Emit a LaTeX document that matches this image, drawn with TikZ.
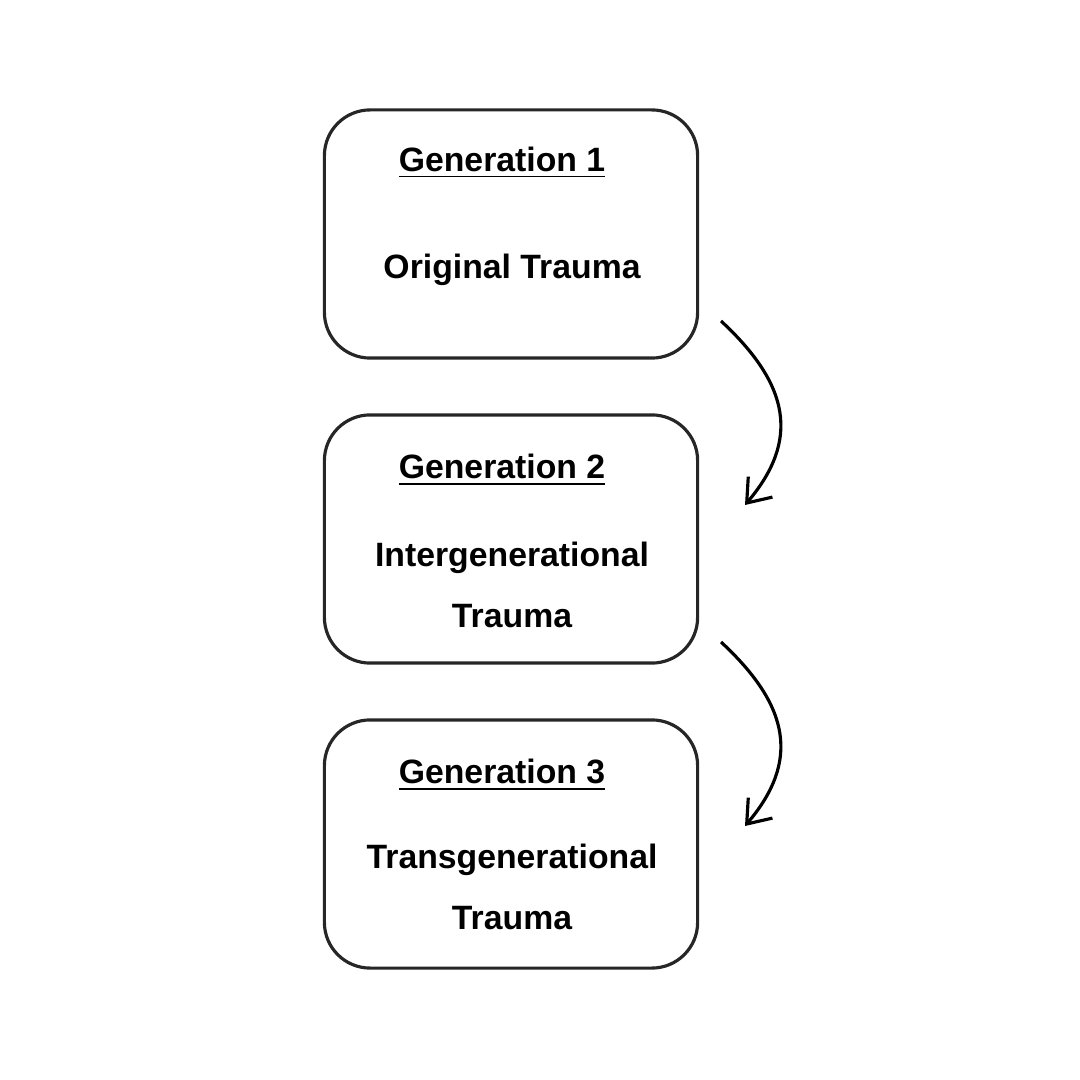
\documentclass[tikz,border=0pt]{standalone}
\usepackage{fontspec}
\setmainfont{Liberation Sans}
\usetikzlibrary{arrows.meta, positioning, calc}
\tikzset{
  genbox/.style={draw=black!85, line width=0.9pt, rounded corners=13pt, minimum width=3.73cm, minimum height=2.48cm},
  gentext/.style={font=\fontsize{9.6}{11.5}\selectfont\bfseries, align=center, inner sep=0pt},
  flow/.style={line width=0.9pt, -{Straight Barb[length=6pt, width=9pt]}}
}
\begin{document}
\begin{tikzpicture}[x=0.01cm, y=-0.01cm]
  \useasboundingbox (0,0) rectangle (1080,1080);
  \node[genbox] (b1) at (511,234) {};
  \node[genbox] (b2) at (511,539) {};
  \node[genbox] (b3) at (511,844) {};
  \node[gentext] (t1) at (502,163) {\underline{Generation 1}};
  \node[gentext] (o1) at (512,270) {Original Trauma};
  \node[gentext] (t2) at (502,470) {\underline{Generation 2}};
  \node[gentext] (o2) at (512,585) {Intergenerational\\[6pt]Trauma};
  \node[gentext] (t3) at (502,775) {\underline{Generation 3}};
  \node[gentext] (o3) at (512,887) {Transgenerational\\[6pt]Trauma};
  % curved connectors
  \coordinate (a1s) at (721,321);
  \coordinate (a1e) at (745,505);
  \coordinate (a2s) at (721,642);
  \coordinate (a2e) at (745,826);
  \draw[flow] (a1s) .. controls (790,385) and (800,440) .. (a1e);
  \draw[flow] (a2s) .. controls (790,706) and (800,761) .. (a2e);
\end{tikzpicture}
\end{document}
